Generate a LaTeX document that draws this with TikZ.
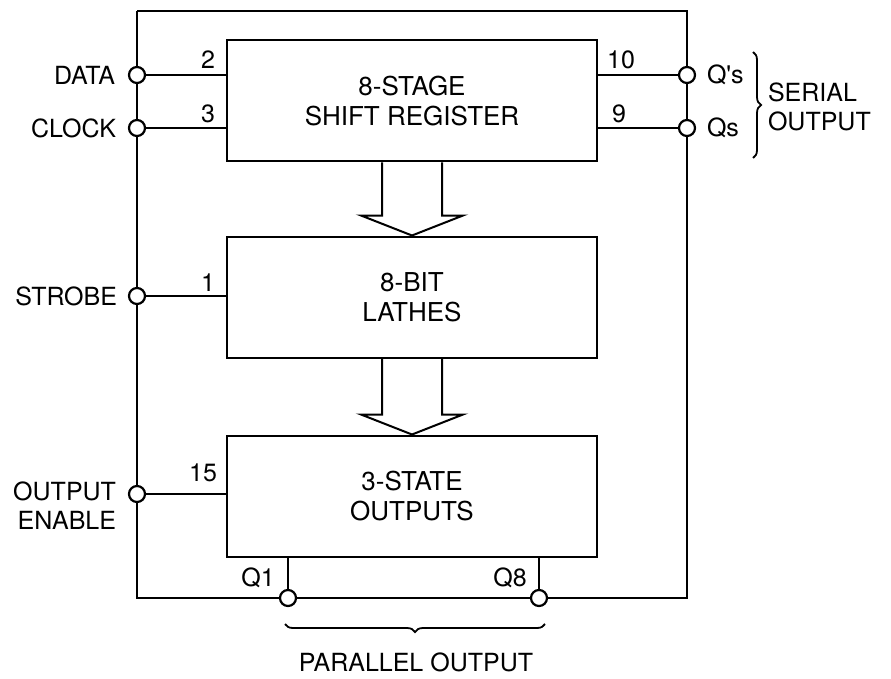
\documentclass[tikz,border=0pt]{standalone}
\usepackage{fontspec}
\setmainfont{TeX Gyre Heros}
\usetikzlibrary{decorations.pathreplacing,calc}
\begin{document}
\begin{tikzpicture}[x=1pt,y=-1pt, line width=2pt,
  blk/.style={draw, minimum width=370pt, minimum height=121pt, inner sep=0pt, align=center, font=\fontsize{26}{30}\selectfont},
  pin/.style={circle, draw, fill=white, minimum size=16pt, inner sep=0pt, line width=2.2pt},
  lbl/.style={font=\fontsize{25}{29}\selectfont, inner sep=0pt},
  brc/.style={decorate, decoration={brace, amplitude=8pt}, line width=1.8pt}]
\useasboundingbox (0,0) rectangle (891,679);
% blocks
\node[blk] (b1) at (412,101) {8-STAGE\\SHIFT REGISTER};
\node[blk] (b2) at (412,297) {8-BIT\\LATHES};
\node[blk] (b3) at (412,496) {3-STATE\\OUTPUTS};
% frame corners
\coordinate (tl) at (137,11);
\coordinate (tr) at (687,11);
\coordinate (bl) at (137,598);
\coordinate (br) at (687,598);
% pins
\node[pin] (data) at (137,75) {};
\node[pin] (clock) at (137,128) {};
\node[pin] (strobe) at (137,296) {};
\node[pin] (oe) at (137,494) {};
\node[pin] (qps) at (687,75) {};
\node[pin] (qs) at (687,128) {};
\node[pin] (q1) at (288,598) {};
\node[pin] (q8) at (539,598) {};
% frame
\draw (tl) -- (data) -- (clock) -- (strobe) -- (oe) -- (bl) -- (q1) -- (q8) -- (br) -- (qs) -- (qps) -- (tr) -- (tl);
% stubs
\draw (data) -- (data -| b1.west);
\draw (clock) -- (clock -| b1.west);
\draw (strobe) -- (strobe -| b2.west);
\draw (oe) -- (oe -| b3.west);
\draw (qps) -- (qps -| b1.east);
\draw (qs) -- (qs -| b1.east);
\draw (q1) -- (q1 |- b3.south);
\draw (q8) -- (q8 |- b3.south);
% block arrows
\draw[line join=miter] ($(b1.south)+(-30,0)$) -- ($(b2.north)+(-30,-20)$) -- ($(b2.north)+(-51,-20)$) -- (b2.north) -- ($(b2.north)+(51,-20)$) -- ($(b2.north)+(30,-20)$) -- ($(b1.south)+(30,0)$);
\draw[line join=miter] ($(b2.south)+(-30,0)$) -- ($(b3.north)+(-30,-20)$) -- ($(b3.north)+(-51,-20)$) -- (b3.north) -- ($(b3.north)+(51,-20)$) -- ($(b3.north)+(30,-20)$) -- ($(b2.south)+(30,0)$);
% pin numbers
\node[lbl] (n2) at (208,60) {2};
\node[lbl] (n3) at (208,114) {3};
\node[lbl] (n1) at (208,283) {1};
\node[lbl] (n15) at (203,473) {15};
\node[lbl] (n10) at (621,60) {10};
\node[lbl] (n9) at (619,114) {9};
\node[lbl] (nq1) at (258,578) {Q1};
\node[lbl] (nq8) at (510,578) {Q8};
% labels
\node[lbl, anchor=east] (ldata) at (116,75) {DATA};
\node[lbl, anchor=east] (lclock) at (117,128) {CLOCK};
\node[lbl, anchor=east] (lstrobe) at (118,296) {STROBE};
\node[lbl, anchor=east, align=right] (loe) at (117,506) {OUTPUT\\ENABLE};
\node[lbl, anchor=west] (lqps) at (706,75) {Q\textquotesingle s};
\node[lbl, anchor=west] (lqs) at (706,128) {Qs};
\node[lbl, anchor=west, align=left] (lser) at (767,107) {SERIAL\\OUTPUT};
\node[lbl] (lpar) at (416,662) {PARALLEL OUTPUT};
% braces
\draw[brc] (753,52) -- (753,158);
\draw[brc] (545,624) -- (285,624);
\end{tikzpicture}
\end{document}
